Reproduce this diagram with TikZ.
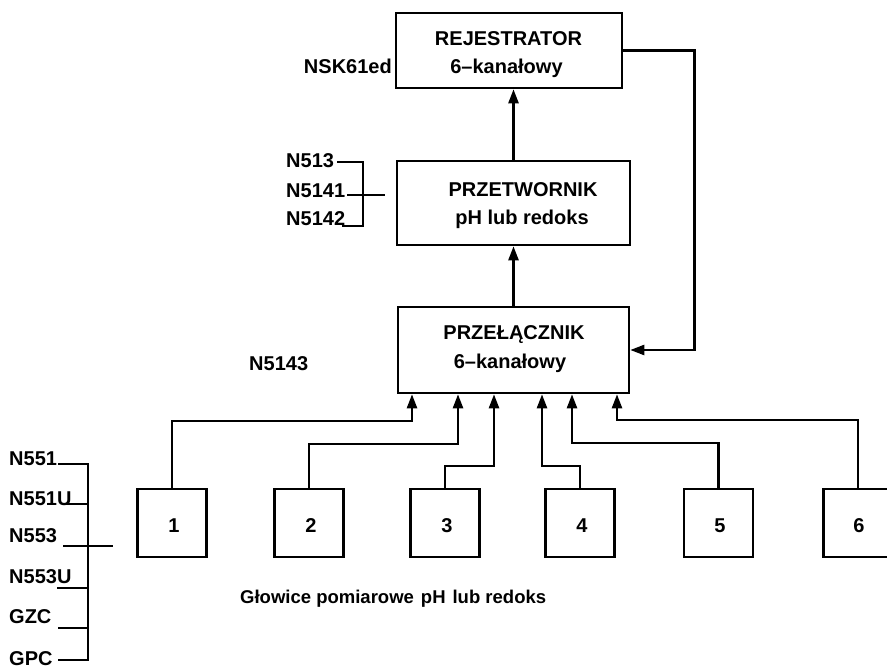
\documentclass[tikz,border=0pt]{standalone}
\usepackage{fontspec}
\setmainfont{Liberation Sans}
\usetikzlibrary{arrows.meta}
\begin{document}
\begin{tikzpicture}[x=1pt,y=-1pt,
  box/.style={draw,line width=2.6pt,inner sep=0pt,rectangle},
  head/.style={box,minimum width=69pt,minimum height=68pt},
  lbl/.style={font=\bfseries\fontsize{20}{24}\selectfont,inner sep=0pt,anchor=base west},
  txt/.style={font=\bfseries\fontsize{20}{24}\selectfont,inner sep=0pt,anchor=base},
  wire/.style={line width=2.4pt},
  thin/.style={line width=1.9pt},
  arr/.style={wire,-{Triangle[length=14pt,width=10pt]}}]
\useasboundingbox (0,0) rectangle (887,668);
\clip (0,0) rectangle (887,668);

% main boxes
\node[box,minimum width=226pt,minimum height=75pt] (rej) at (509,50.5) {};
\node[box,minimum width=233pt,minimum height=84pt] (prz) at (513.5,203) {};
\node[box,minimum width=231pt,minimum height=86pt] (sw) at (513.5,350) {};

\node[txt] (t1) at (508.5,46) {REJESTRATOR};
\node[txt] (t2) at (506.5,74) {6–kanałowy};
\node[txt] (t3) at (523,197) {PRZETWORNIK};
\node[txt] (t4) at (522,225) {pH lub redoks};
\node[txt] (t5) at (514,340) {PRZEŁĄCZNIK};
\node[txt] (t6) at (510,369) {6–kanałowy};

% measuring heads
\node[head] (h1) at (172,523) {};
\node[head] (h2) at (309,523) {};
\node[head] (h3) at (445,523) {};
\node[head] (h4) at (580,523) {};
\node[head] (h5) at (718.5,523) {};
\node[head] (h6) at (858,523) {};
\foreach \i/\x in {1/174,2/311,3/447,4/582,5/720,6/859}
  \node[txt] (n\i) at (\x,532) {\i};

% labels
\node[lbl,anchor=base east] (lnsk) at (392,74) {NSK61ed};
\node[lbl] (l513) at (286,168) {N513};
\node[lbl] (l5141) at (286,198) {N5141};
\node[lbl] (l5142) at (286,226) {N5142};
\node[lbl] (l5143) at (249,371) {N5143};
\node[lbl] (l551) at (9,465) {N551};
\node[lbl] (l551u) at (9,505) {N551U};
\node[lbl] (l553) at (9,542) {N553};
\node[lbl] (l553u) at (9,583) {N553U};
\node[lbl] (lgzc) at (9,623) {GZC};
\node[lbl] (lgpc) at (9,665) {GPC};
\node[lbl,font=\bfseries\fontsize{18.5}{22}\selectfont] (cap) at (240,603)
  {Głowice pomiarowe\hspace{7pt}pH\hspace{7pt}lub redoks};

% main connectors
\draw[arr] (prz.north) -- (prz.north |- rej.south);
\draw[arr] (sw.north) -- (sw.north |- prz.south);
\draw[arr] (rej.east) -- ++(71,0) |- (sw.east);

% inputs of the switch
\coordinate (i1) at (sw.south -| 412,0);
\coordinate (i2) at (sw.south -| 458,0);
\coordinate (i3) at (sw.south -| 494,0);
\coordinate (i4) at (sw.south -| 542,0);
\coordinate (i5) at (sw.south -| 572,0);
\coordinate (i6) at (sw.south -| 617,0);
\draw[arr] (h1.north) |- (i1 |- 0,421) -- (i1);
\draw[arr] (h2.north) |- (i2 |- 0,444) -- (i2);
\draw[arr] (h3.north) |- (i3 |- 0,466) -- (i3);
\draw[arr] (h4.north) |- (i4 |- 0,466) -- (i4);
\draw[arr] (h5.north) |- (i5 |- 0,443) -- (i5);
\draw[arr] (h6.north) |- (i6 |- 0,420) -- (i6);

% brackets
\draw[thin] (337,162) -| (363,226) -- (342,226);
\draw[thin] (347,195) -- (385,195);
\draw[thin] (58,464) -| (88,660) -- (58,660);
\draw[thin] (62,504) -- (88,504);
\draw[thin] (63,546) -- (113,546);
\draw[thin] (57,588) -- (88,588);
\draw[thin] (58,628) -- (88,628);
\end{tikzpicture}
\end{document}
